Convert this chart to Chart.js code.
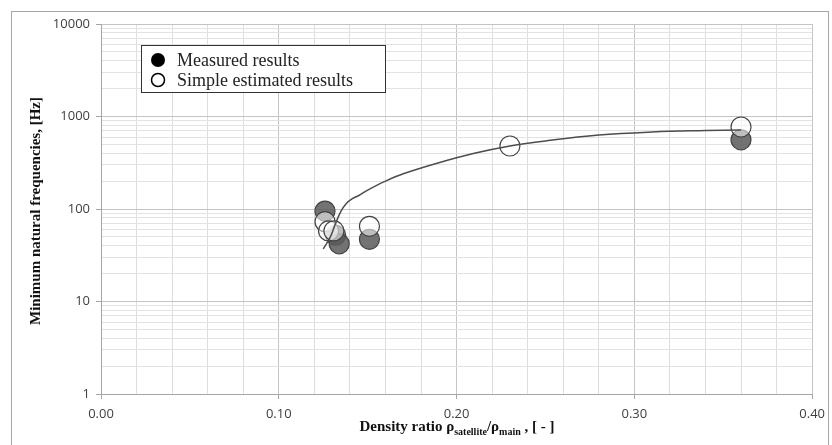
<!DOCTYPE html>
<html>
<head>
<meta charset="utf-8">
<script src="https://cdn.jsdelivr.net/npm/chart.js@4.4.1/dist/chart.umd.min.js"></script>
<style>
  body { margin: 0; background: #fff; }
  #wrap { position: relative; width: 832px; height: 445px; }
  #frame { position: absolute; left: 11px; top: 11px; width: 818px; height: 440px;
           border: 1px solid #a6a6a6; box-sizing: border-box; }
  canvas { position: absolute; left: 0; top: 0; }
</style>
</head>
<body>
<div id="wrap">
  <div id="frame"></div>
  <canvas id="myChart" width="832" height="445"></canvas>
</div>
<script>
// measured points [density ratio, frequency Hz]
var measuredX = [0.126, 0.132, 0.134, 0.151, 0.360]
var measuredY = [95, 52, 42, 47, 560]

// simple estimate points
var estimatedX = [0.126, 0.128, 0.131, 0.151, 0.230, 0.360]
var estimatedY = [73, 58, 58, 65, 480, 770]

// trend curve
var curveX = [0.125, 0.129, 0.132, 0.135, 0.138, 0.141, 0.145, 0.150, 0.160, 0.170, 0.190, 0.210, 0.230, 0.250, 0.280, 0.310, 0.340, 0.360]
var curveY = [37, 50, 70, 95, 115, 128, 140, 160, 200, 240, 316, 400, 480, 545, 630, 680, 705, 715]

var seriesNames = ["Measured results", "Simple estimated results"]
var yTickValues = [1, 2, 3, 4, 5, 6, 7, 8, 9, 10, 20, 30, 40, 50, 60, 70, 80, 90,
  100, 200, 300, 400, 500, 600, 700, 800, 900, 1000, 2000, 3000, 4000, 5000, 6000, 7000, 8000, 9000, 10000]
var yLabelValues = [1, 10, 100, 1000, 10000]

function toPoints(xs, ys) {
  var pts = []
  for (var i = 0; i < xs.length; i++) pts.push({ x: xs[i], y: ys[i] })
  return pts
}

function isDecade(v) {
  return yLabelValues.indexOf(v) >= 0
}

function isTenth(v) {
  return Math.abs(v * 10 - Math.round(v * 10)) < 1e-6
}

// legend box and axis titles with subscripts
var decorPlugin = {
  id: 'decor',
  afterDraw: function(chart) {
    var ctx = chart.ctx
    ctx.save()

    // legend
    ctx.fillStyle = '#fff'
    ctx.fillRect(141, 45, 244, 47)
    ctx.strokeStyle = '#333'
    ctx.lineWidth = 1
    ctx.strokeRect(141.5, 45.5, 244, 47)
    ctx.beginPath()
    ctx.arc(158, 60, 7, 0, Math.PI * 2)
    ctx.fillStyle = '#000'
    ctx.fill()
    ctx.beginPath()
    ctx.arc(158, 80, 6.5, 0, Math.PI * 2)
    ctx.fillStyle = '#fff'
    ctx.fill()
    ctx.lineWidth = 1.5
    ctx.strokeStyle = '#000'
    ctx.stroke()
    ctx.fillStyle = '#222'
    ctx.font = '18px "Liberation Serif", serif'
    ctx.textBaseline = 'middle'
    ctx.fillText(seriesNames[0], 177, 61)
    ctx.fillText(seriesNames[1], 177, 81)

    // y title
    ctx.save()
    ctx.translate(36, 211)
    ctx.rotate(-Math.PI / 2)
    ctx.textAlign = 'center'
    ctx.textBaseline = 'middle'
    ctx.font = 'bold 15px "Liberation Serif", serif'
    ctx.fillStyle = '#111'
    ctx.fillText('Minimum natural frequencies, [Hz]', 0, 0)
    ctx.restore()

    // x title with subscripts
    var parts = [
      ['Density ratio \u03c1', 'bold 15px "Liberation Serif", serif', 0],
      ['satellite', 'bold 10px "Liberation Serif", serif', 4],
      ['/\u03c1', 'bold 15px "Liberation Serif", serif', 0],
      ['main', 'bold 10px "Liberation Serif", serif', 4],
      [' , [ - ]', 'bold 15px "Liberation Serif", serif', 0]
    ]
    var total = 0
    for (var i = 0; i < parts.length; i++) {
      ctx.font = parts[i][1]
      total += ctx.measureText(parts[i][0]).width
    }
    var x = 457 - total / 2
    ctx.textBaseline = 'alphabetic'
    ctx.textAlign = 'left'
    ctx.fillStyle = '#111'
    for (var j = 0; j < parts.length; j++) {
      ctx.font = parts[j][1]
      ctx.fillText(parts[j][0], x, 431 + parts[j][2])
      x += ctx.measureText(parts[j][0]).width
    }
    ctx.restore()
  }
}

var ctx = document.getElementById('myChart').getContext('2d')
var chart = new Chart(ctx, {
  type: 'scatter',
  data: {
    datasets: [{
      label: 'curve',
      data: toPoints(curveX, curveY),
      showLine: true,
      borderColor: '#4d4d4d',
      borderWidth: 1.5,
      pointRadius: 0,
      tension: 0.4,
      order: 0
    }, {
      label: seriesNames[1],
      data: toPoints(estimatedX, estimatedY),
      backgroundColor: 'rgba(255,255,255,0.55)',
      borderColor: '#444',
      borderWidth: 1.2,
      pointRadius: 10,
      order: 1
    }, {
      label: seriesNames[0],
      data: toPoints(measuredX, measuredY),
      backgroundColor: 'rgba(90,90,90,0.85)',
      borderColor: '#444',
      borderWidth: 1.2,
      pointRadius: 10,
      order: 2
    }]
  },
  options: {
    responsive: false,
    animation: false,
    layout: { padding: { left: 0, top: 24, right: 13, bottom: 0 } },
    plugins: {
      legend: { display: false },
      tooltip: { enabled: false }
    },
    scales: {
      x: {
        type: 'linear',
        min: 0,
        max: 0.4,
        afterFit: function(scale) { scale.height = 51 },
        ticks: {
          stepSize: 0.02,
          autoSkip: false,
          maxRotation: 0,
          padding: 7,
          color: '#404040',
          font: { family: '"Open Sans", sans-serif', size: 13 },
          callback: function(v) { return isTenth(v) ? v.toFixed(2) : '' }
        },
        grid: {
          color: function(c) { return isTenth(c.tick.value) ? '#c4c4c4' : '#dedede' },
          tickColor: function(c) { return isTenth(c.tick.value) ? '#a6a6a6' : 'rgba(0,0,0,0)' },
          tickLength: 5
        },
        border: { color: '#a6a6a6' }
      },
      y: {
        type: 'logarithmic',
        min: 1,
        max: 10000,
        afterFit: function(scale) { scale.width = 101 },
        afterBuildTicks: function(scale) {
          scale.ticks = yTickValues.map(function(v) { return { value: v } })
        },
        ticks: {
          autoSkip: false,
          padding: 6,
          color: '#404040',
          font: { family: '"Open Sans", sans-serif', size: 13 },
          callback: function(v) { return isDecade(v) ? String(v) : '' }
        },
        grid: {
          color: function(c) { return isDecade(c.tick.value) ? '#c4c4c4' : '#e3e3e3' },
          tickColor: function(c) { return isDecade(c.tick.value) ? '#a6a6a6' : 'rgba(0,0,0,0)' },
          tickLength: 5
        },
        border: { color: '#a6a6a6' }
      }
    }
  },
  plugins: [decorPlugin]
})
</script>
</body>
</html>
